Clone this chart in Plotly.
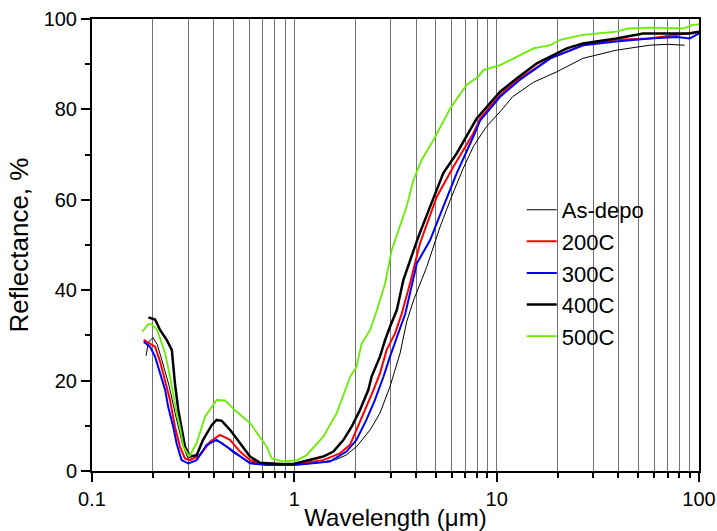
import plotly.graph_objects as go

# ---- data (wavelength in µm, reflectance in %) ----
wl_asdepo = [0.185, 0.19, 0.2, 0.21, 0.22, 0.24, 0.26, 0.28, 0.30, 0.33,
             0.36, 0.40, 0.44, 0.50, 0.60, 0.70, 0.85, 1.0, 1.3, 1.6,
             1.8, 2.03, 2.37, 2.65, 2.97, 3.33, 3.59, 3.9, 4.5, 5.25,
             5.9, 6.84, 7.67, 8.9, 10.4, 12, 15.2, 19.8, 26.7, 39,
             57, 70, 85]
r_asdepo = [25.5, 28.5, 29.5, 28, 25, 19, 12, 6, 2.5, 3,
            5, 6.8, 6.2, 4, 2, 1.5, 1.3, 1.3, 1.8, 2.5,
            3.5, 5.4, 9.1, 12.8, 18.7, 26, 33, 38, 45, 54,
            60, 67, 71.8, 76.2, 79.5, 82.8, 86, 88.3, 91.3, 93.1,
            94.2, 94.4, 94.2]

wl_200 = [0.18, 0.1935, 0.205, 0.217, 0.23, 0.243, 0.257, 0.272, 0.288, 0.305,
          0.342, 0.383, 0.429, 0.481, 0.539, 0.604, 0.677, 0.85, 1.0, 1.39,
          1.68, 1.885, 2.03, 2.24, 2.46, 2.65, 2.86, 3.15, 3.4, 3.73,
          4.18, 5.06, 6.11, 7.67, 8.28, 10.4, 13.05, 18.4, 26.7, 39,
          57, 78, 100]
r_200 = [29, 28.2, 27.5, 24.2, 20.1, 15.7, 9.8, 5.4, 2.8, 2.4,
         3.5, 6.5, 8, 6.9, 4.3, 2.4, 1.7, 1.5, 1.5, 2.4,
         3.9, 5.8, 9.1, 13.5, 17.9, 21.6, 26.8, 30.5, 34.9, 41.5,
         50.4, 60.7, 67.3, 74.7, 78, 83.2, 86.9, 91.3, 94.2, 95.4,
         95.7, 96.5, 97.2]

wl_300 = [0.18, 0.1935, 0.205, 0.217, 0.23, 0.238, 0.252, 0.262, 0.277, 0.299,
          0.329, 0.369, 0.413, 0.463, 0.539, 0.604, 0.73, 1.0, 1.5, 1.81,
          2.03, 2.27, 2.5, 2.76, 2.97, 3.21, 3.54, 4.03, 4.69, 5.45,
          6.35, 7.67, 8.28, 10.4, 13, 18.4, 26.7, 39, 57, 78,
          90, 100]
r_300 = [28.6, 27.5, 25.3, 21.6, 17.9, 14.2, 9.8, 6.1, 2.4, 1.7,
         2.4, 5.8, 6.9, 5.4, 3.2, 1.7, 1.3, 1.3, 2.1, 4.3,
         6.9, 11.3, 15.7, 20.9, 25.3, 29.7, 34.9, 45.9, 51.1, 58.5,
         65.9, 74, 77.5, 82.8, 86.5, 91.3, 94.2, 95, 95.7, 96,
         95.7, 96.8]

wl_400 = [0.19, 0.205, 0.217, 0.234, 0.248, 0.257, 0.267, 0.277, 0.288, 0.305,
          0.329, 0.354, 0.391, 0.413, 0.438, 0.481, 0.539, 0.604, 0.677, 0.88,
          1.0, 1.2, 1.39, 1.56, 1.75, 1.92, 2.11, 2.32, 2.41, 2.65,
          2.81, 2.97, 3.21, 3.46, 4.1, 4.69, 5.45, 6.35, 7.1, 7.97,
          10.4, 12.6, 15.8, 18.4, 22.2, 26.7, 39, 53, 69, 90,
          100]
r_400 = [34, 33.5, 31.2, 29, 26.8, 19.4, 13.5, 9.8, 5.4, 3.2,
         3.5, 6.9, 10.2, 11.3, 11.1, 9.1, 6.2, 3.2, 1.8, 1.5,
         1.6, 2.4, 3.2, 4.3, 6.9, 9.8, 13.5, 17.9, 20.9, 25.3,
         29, 31.9, 35.6, 42.3, 51.8, 58.5, 65.9, 70.3, 74, 78,
         83.9, 86.9, 90.2, 91.7, 93.5, 94.6, 95.7, 96.8, 96.8, 96.8,
         97.2]

wl_500 = [0.177, 0.19, 0.197, 0.21, 0.23, 0.243, 0.262, 0.272, 0.283, 0.303,
          0.329, 0.362, 0.413, 0.454, 0.519, 0.604, 0.73, 0.773, 0.882, 1.03,
          1.15, 1.39, 1.62, 1.89, 2.03, 2.15, 2.37, 2.56, 2.81, 3.03,
          3.59, 3.88, 4.26, 4.87, 5.89, 7.1, 8.1, 8.6, 10.4, 15.2,
          18.4, 20.6, 26.7, 39, 45, 57, 84, 93, 100]
r_500 = [30.8, 32.5, 32.5, 31.2, 26, 20.9, 12.8, 9.8, 5.4, 3.2,
         6.2, 12, 15.7, 15.6, 13.1, 10.6, 5.4, 2.8, 2.1, 2.4,
         3.5, 7.6, 12.8, 20.9, 23.1, 28.2, 31.2, 35.6, 41.5, 48.9,
         58.5, 64.4, 68.8, 73.2, 80.2, 85.4, 87.2, 88.7, 89.8, 93.5,
         94.2, 95.4, 96.5, 97.2, 97.9, 98.1, 97.9, 98.7, 98.8]

series_names = ["As-depo", "200C", "300C", "400C", "500C"]
x_tickvals = [0.1, 1, 10, 100]
x_ticktext = ["0.1", "1", "10", "100"]
x_minor = [0.2, 0.3, 0.4, 0.5, 0.6, 0.7, 0.8, 0.9,
           2, 3, 4, 5, 6, 7, 8, 9,
           20, 30, 40, 50, 60, 70, 80, 90]
y_tickvals = [0, 20, 40, 60, 80, 100]

FONT = "Arial, Liberation Sans, sans-serif"

fig = go.Figure()
styles = [
    (wl_asdepo, r_asdepo, "#000000", 1.0),
    (wl_200, r_200, "#ff0000", 2.0),
    (wl_300, r_300, "#0000ff", 2.0),
    (wl_400, r_400, "#000000", 2.5),
    (wl_500, r_500, "#66ee00", 1.8),
]
for name, (xs, ys, col, w) in zip(series_names, styles):
    fig.add_trace(go.Scatter(x=xs, y=ys, mode="lines", name=name,
                             line=dict(color=col, width=w)))

fig.update_layout(
    width=717, height=531,
    margin=dict(l=92, r=18, t=19, b=60, autoexpand=False),
    paper_bgcolor="white", plot_bgcolor="white",
    font=dict(family=FONT, color="black"),
    showlegend=True,
    legend=dict(x=0.708, y=0.624, xanchor="left", yanchor="top",
                bgcolor="rgba(0,0,0,0)", font=dict(size=22, family=FONT),
                itemwidth=30, tracegroupgap=0),
)
fig.update_xaxes(
    type="log", range=[-1, 2], automargin=False,
    tickmode="array", tickvals=x_tickvals, ticktext=x_ticktext,
    ticks="outside", ticklen=9, tickwidth=1.5, tickcolor="black",
    tickfont=dict(size=20, family=FONT),
    showgrid=True, gridcolor="#707070", gridwidth=1,
    minor=dict(tickmode="array", tickvals=x_minor, ticks="outside", ticklen=5,
               tickwidth=1.5, tickcolor="black", showgrid=True,
               gridcolor="#707070", gridwidth=1),
    showline=True, linewidth=2, linecolor="black", mirror=True,
    zeroline=False,
    title=dict(text="Wavelength (\u03bcm)", font=dict(size=24, family=FONT), standoff=6),
)
fig.update_yaxes(
    range=[0, 100], automargin=False,
    tickmode="array", tickvals=y_tickvals,
    ticks="outside", ticklen=9, tickwidth=1.5, tickcolor="black",
    tickfont=dict(size=20, family=FONT),
    showgrid=False,
    minor=dict(dtick=10, ticks="outside", ticklen=5, tickwidth=1.5,
               tickcolor="black", showgrid=False),
    showline=True, linewidth=2, linecolor="black", mirror=True,
    zeroline=False,
    title=dict(text="Reflectance, %", font=dict(size=26, family=FONT), standoff=8),
)

fig.write_html("out.html")
